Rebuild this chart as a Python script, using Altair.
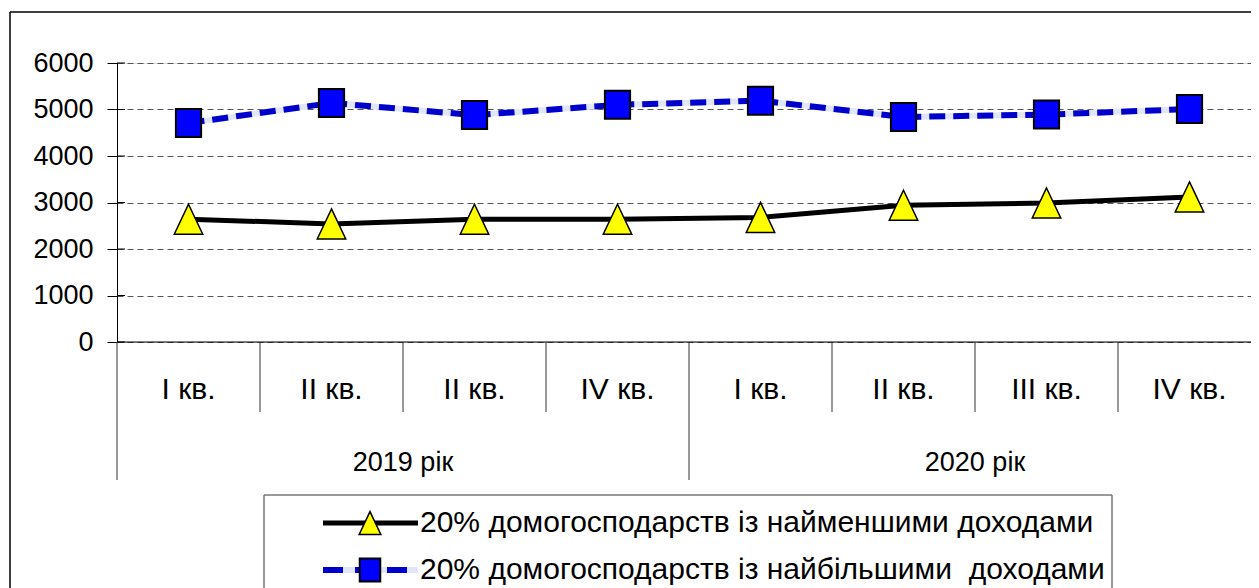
import altair as alt
import pandas as pd

# ---------------- data ----------------
quarters = ["I кв.", "II кв.", "II кв.", "IV кв.", "I кв.", "II кв.", "III кв.", "IV кв."]
years = ["2019 рік", "2020 рік"]
low_income = [2640, 2540, 2640, 2640, 2680, 2940, 2990, 3120]
high_income = [4710, 5140, 4880, 5100, 5190, 4840, 4890, 5010]
series_names = [
    "20% домогосподарств із найменшими доходами",
    "20% домогосподарств із найбільшими\u00a0 доходами",
]
y_ticks = [0, 1000, 2000, 3000, 4000, 5000, 6000]

FONT = "Liberation Sans"
FS_AX = 27
FS_Q = 30
FS_YR = 27
FS_LEG = 30

pos = [i + 0.5 for i in range(len(quarters))]
df = pd.DataFrame({"pos": pos, "quarter": quarters, "low": low_income, "high": high_income})
df_years = pd.DataFrame({"pos": [2, 6], "year": years})
df_qsep = pd.DataFrame({"pos": [1, 2, 3, 5, 6, 7]})
df_ysep = pd.DataFrame({"pos": [0, 4, 8]})
df_ticks = pd.DataFrame({"v": y_ticks})

W_VIEW = 1134
W = 1144
PH = 279
BOTTOM = 525

xs = alt.Scale(domain=[0, 8], range=[0, W])
ys = alt.Scale(domain=[0, 6000])
yaxis = alt.Axis(values=y_ticks, format="d", labelFont=FONT, labelFontSize=FS_AX, labelColor="black",
                 tickSize=10, tickColor="black", tickWidth=1,
                 domainColor="black", domainWidth=1, labelPadding=14,
                 grid=True, gridDash=[6, 4], gridColor="#555", gridWidth=1)


def X(f):
    return alt.X(f, scale=xs, axis=None, title=None)


def Y(f):
    return alt.Y(f, scale=ys, axis=yaxis, title=None)


base = alt.Chart(df)

inner_ticks = alt.Chart(df_ticks).mark_rule(color="black", strokeWidth=1).encode(
    y=Y("v:Q"), x=alt.value(0), x2=alt.value(8)
)

baseline = alt.Chart(df_ticks).transform_filter("datum.v == 0").mark_rule(color="black", strokeWidth=1).encode(
    y=Y("v:Q"), x=alt.value(0), x2=alt.value(W)
)

qsep = alt.Chart(df_qsep).mark_rule(color="#333", strokeWidth=1).encode(
    x=X("pos:Q"), y=alt.value(PH), y2=alt.value(349)
)
ysep = alt.Chart(df_ysep).mark_rule(color="#333", strokeWidth=1).encode(
    x=X("pos:Q"), y=alt.value(PH), y2=alt.value(417)
)

qlabels = base.mark_text(font=FONT, fontSize=FS_Q, color="black", baseline="middle").encode(
    x=X("pos:Q"), y=alt.value(327), text="quarter:N"
)
ylabels = alt.Chart(df_years).mark_text(font=FONT, fontSize=FS_YR, color="black", baseline="middle").encode(
    x=X("pos:Q"), y=alt.value(400), text="year:N"
)

TRI = "M0,-1L0.95,1L-0.95,1Z"
SQR = "M-0.9,-1H0.9V1H-0.9Z"

low_line = base.mark_line(color="black", strokeWidth=5).encode(x=X("pos:Q"), y=Y("low:Q"))
low_pts = base.mark_point(shape=TRI, size=900, filled=True, fill="#FFFF00", stroke="black",
                          strokeWidth=1.5, opacity=1).encode(x=X("pos:Q"), y=Y("low:Q"))
high_under = base.mark_line(color="#E2E6FA", strokeWidth=6).encode(x=X("pos:Q"), y=Y("high:Q"))
high_line = base.mark_line(color="#0000CC", strokeWidth=6, strokeDash=[16, 8]).encode(x=X("pos:Q"), y=Y("high:Q"))
high_pts = base.mark_point(shape=SQR, size=784, filled=True, fill="#0000FF", stroke="black",
                           strokeWidth=2, opacity=1).encode(x=X("pos:Q"), y=Y("high:Q"))

# legend (drawn by hand)
leg = pd.DataFrame({"name": series_names, "row": [0, 1]})
LX0, LX1, LY0 = 147, 995, 432
ROW_Y = [460, 507]
SX0, SX1, SXM, TX = 206, 301, 253, 303
one = alt.Chart(leg).transform_filter("datum.row == 0")
leg_box = [
    one.mark_rule(color="#777", strokeWidth=1.5).encode(x=alt.value(LX0), x2=alt.value(LX1), y=alt.value(LY0)),
    one.mark_rule(color="#777", strokeWidth=1.5).encode(x=alt.value(LX0), y=alt.value(LY0), y2=alt.value(BOTTOM)),
    one.mark_rule(color="#777", strokeWidth=1.5).encode(x=alt.value(LX1), y=alt.value(LY0), y2=alt.value(BOTTOM)),
]
leg_low = alt.Chart(leg).transform_filter("datum.row == 0")
leg_high = alt.Chart(leg).transform_filter("datum.row == 1")
leg_layers = [
    leg_low.mark_rule(color="black", strokeWidth=5).encode(x=alt.value(SX0), x2=alt.value(SX1), y=alt.value(ROW_Y[0])),
    leg_low.mark_point(shape=TRI, size=520, filled=True, fill="#FFFF00", stroke="black", strokeWidth=1.5, opacity=1).encode(
        x=alt.value(SXM), y=alt.value(ROW_Y[0])),
    leg_low.mark_text(font=FONT, fontSize=FS_LEG, align="left", baseline="middle", color="black").encode(
        x=alt.value(TX), y=alt.value(ROW_Y[0]), text="name:N"),
    leg_high.mark_rule(color="#E2E6FA", strokeWidth=6).encode(x=alt.value(SX0), x2=alt.value(SX1), y=alt.value(ROW_Y[1])),
    leg_high.mark_rule(color="#0000CC", strokeWidth=6, strokeDash=[20, 12]).encode(x=alt.value(SX0), x2=alt.value(SX1), y=alt.value(ROW_Y[1])),
    leg_high.mark_point(shape=SQR, size=520, filled=True, fill="#0000FF", stroke="black", strokeWidth=2, opacity=1).encode(
        x=alt.value(SXM), y=alt.value(ROW_Y[1])),
    leg_high.mark_text(font=FONT, fontSize=FS_LEG, align="left", baseline="middle", color="black").encode(
        x=alt.value(TX), y=alt.value(ROW_Y[1]), text="name:N"),
]

# outer border
border = [
    one.mark_rule(color="black", strokeWidth=1.5).encode(x=alt.value(-107), x2=alt.value(W + 20), y=alt.value(-51)),
    one.mark_rule(color="black", strokeWidth=1.5).encode(x=alt.value(-107), y=alt.value(-51), y2=alt.value(BOTTOM)),
]

chart = alt.layer(
    inner_ticks, baseline, qsep, ysep, qlabels, ylabels,
    low_line, high_under, high_line, low_pts, high_pts,
    *leg_box, *leg_layers, *border
).properties(
    width=W_VIEW, height=PH,
    autosize=alt.AutoSizeParams(type="none"),
    padding={"left": 109, "top": 55, "right": 0, "bottom": 246},
).configure_view(stroke=None).configure(background="white")

chart.save("out.html", embed_options={"renderer": "svg", "actions": False})
